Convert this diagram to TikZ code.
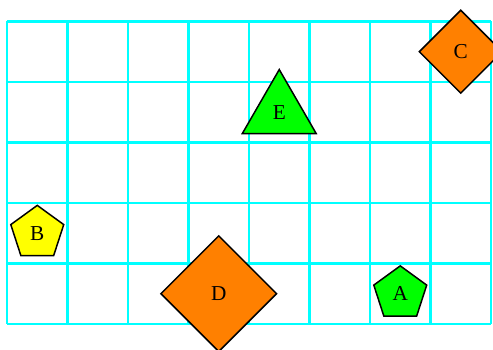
\documentclass[tikz,border=0pt]{standalone}
\usepackage{fontspec}
\setmainfont{Liberation Serif}
\usetikzlibrary{shapes.geometric}
\definecolor{gridcyan}{RGB}{0,255,255}
\definecolor{shapegreen}{RGB}{0,255,0}
\definecolor{shapeorange}{RGB}{255,128,0}
\definecolor{shapeyellow}{RGB}{255,255,0}
\tikzset{
  gridline/.style={gridcyan, line width=1pt},
  pentnode/.style={regular polygon, regular polygon sides=5, draw=black, line width=0.7pt, minimum size=0.92cm, inner sep=0pt},
  diamnode/.style={diamond, draw=black, line width=0.7pt, inner sep=0pt},
  trinode/.style={regular polygon, regular polygon sides=3, draw=black, line width=0.7pt, minimum size=1.41cm, inner sep=0pt}
}

\begin{document}
\begin{tikzpicture}
		% page frame: 8 x 5 cells plus margins
		\useasboundingbox (-0.116,-0.43) rectangle (8.033,5.355);
		% grid
		\draw[gridline] (0,0) grid (8,5);
		% shapes, each in the middle of its cell
		\node[pentnode, fill=shapegreen] (A) at (6.5,0.5) {A};
		\node[pentnode, fill=shapeyellow] (B) at (0.5,1.5) {B};
		\node[diamnode, fill=shapeorange, minimum size=1.38cm] (C) at (7.5,4.5) {C};
		\node[diamnode, fill=shapeorange, minimum size=1.92cm] (D) at (3.5,0.5) {D};
		\node[trinode, fill=shapegreen] (E) at (4.5,3.5) {E};
	\end{tikzpicture}
\end{document}
